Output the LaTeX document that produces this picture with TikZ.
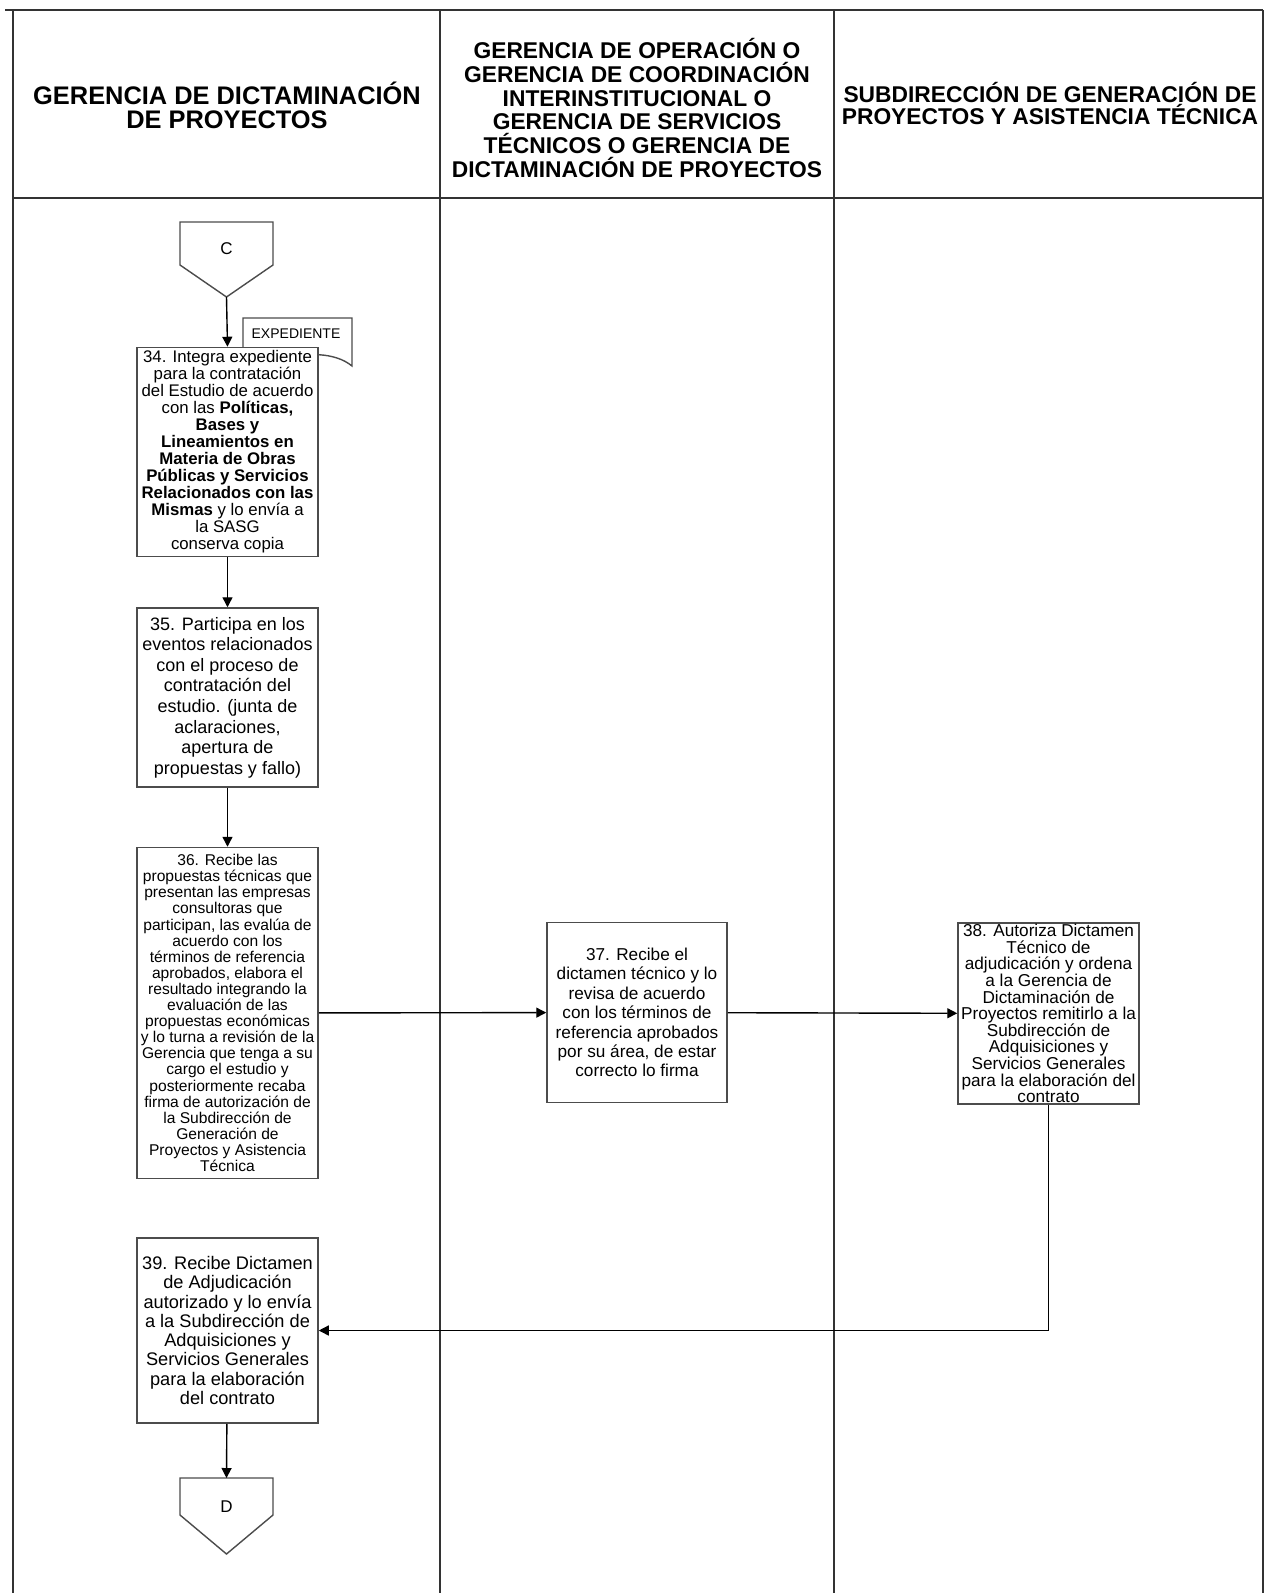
\documentclass[tikz,border=0pt]{standalone}
\usepackage{fontspec}
\setmainfont{Liberation Sans}
\usetikzlibrary{arrows.meta}

\tikzset{
  lane/.style={draw=black!80, line width=1.3pt},
  head/.style={font=\bfseries\fontsize{11.4}{11.9}\selectfont, align=center, inner sep=0pt},
  task/.style={draw=black!70, line width=0.75pt, fill=white, align=center, inner xsep=1pt, inner ysep=2pt, minimum width=90.5pt},
  flow/.style={draw=black, line width=0.7pt, -{Triangle[length=5pt,width=5pt]}},
  link/.style={draw=black!70, line width=0.7pt, fill=white},
}

\begin{document}
\begin{tikzpicture}[x=0.5pt, y=-0.5pt]
\useasboundingbox (0,0) rectangle (1267,1593);

% carriles
\draw[lane] (5,10) -- (1263,10);
\draw[lane] (13,10) -- (13,1593);
\draw[lane] (440,10) -- (440,1593);
\draw[lane] (834,10) -- (834,1593);
\draw[lane] (1263,10) -- (1263,1593);
\draw[lane] (13,198) -- (1263,198);

\node[head, font=\bfseries\fontsize{12.7}{11.9}\selectfont] (hA) at (227,105) {GERENCIA DE DICTAMINACIÓN\\DE PROYECTOS};
\node[head] (hB) at (637,108) {GERENCIA DE OPERACIÓN O\\GERENCIA DE COORDINACIÓN\\INTERINSTITUCIONAL O\\GERENCIA DE SERVICIOS\\TÉCNICOS O GERENCIA DE\\DICTAMINACIÓN DE PROYECTOS};
\node[head, font=\bfseries\fontsize{11.4}{11}\selectfont] (hC) at (1050,104) {SUBDIRECCIÓN DE GENERACIÓN DE\\PROYECTOS Y ASISTENCIA TÉCNICA};

% conector C
\draw[link] (180,222) -- (273,222) -- (273,265) -- (226.5,297) -- (180,265) -- cycle;
\node[font=\fontsize{8.5}{9}\selectfont] (C) at (226.5,249) {C};
\coordinate (Ctip) at (226.5,297);

% documento
\draw[link] (243,318) -- (352,318) -- (352,366) .. controls (335,352) and (305,352) .. (280,360) .. controls (265,364) and (252,364) .. (243,361) -- cycle;
\node[font=\fontsize{7}{7.5}\selectfont] (expd) at (296,334) {EXPEDIENTE};

\node[task, minimum height=104.5pt, inner ysep=0pt, font=\fontsize{8.4}{8.5}\selectfont] (b34) at (227.5,452) {34. Integra expediente\\para la contratación\\del Estudio de acuerdo\\con las \textbf{Políticas,}\\\textbf{Bases y}\\\textbf{Lineamientos en}\\\textbf{Materia de Obras}\\\textbf{Públicas y Servicios}\\\textbf{Relacionados con las}\\\textbf{Mismas} y lo envía a\\la SASG\\conserva copia};
\node[task, minimum height=89.5pt, font=\fontsize{9}{10.3}\selectfont] (b35) at (227.5,697.5) {35. Participa en los\\eventos relacionados\\con el proceso de\\contratación del\\estudio. (junta de\\aclaraciones,\\apertura de\\propuestas y fallo)};
\node[task, minimum height=165.5pt, font=\fontsize{7.8}{8.05}\selectfont] (b36) at (227.5,1013) {36. Recibe las\\propuestas técnicas que\\presentan las empresas\\consultoras que\\participan, las evalúa de\\acuerdo con los\\términos de referencia\\aprobados, elabora el\\resultado integrando la\\evaluación de las\\propuestas económicas\\y lo turna a revisión de la\\Gerencia que tenga a su\\cargo el estudio y\\posteriormente recaba\\firma de autorización de\\la Subdirección de\\Generación de\\Proyectos y Asistencia\\Técnica};
\node[task, minimum width=90pt, minimum height=90pt, font=\fontsize{8.6}{9.7}\selectfont] (b37) at (637,1012.5) {37. Recibe el\\dictamen técnico y lo\\revisa de acuerdo\\con los términos de\\referencia aprobados\\por su área, de estar\\correcto lo firma};
\node[task, minimum height=90.5pt, inner xsep=0pt, inner ysep=-1.5pt, font=\fontsize{8.6}{8.3}\selectfont] (b38) at (1048.5,1013.5) {38. Autoriza Dictamen\\Técnico de\\adjudicación y ordena\\a la Gerencia de\\Dictaminación de\\Proyectos remitirlo a la\\Subdirección de\\Adquisiciones y\\Servicios Generales\\para la elaboración del\\contrato};
\node[task, minimum height=92.5pt, font=\fontsize{9.1}{9.65}\selectfont] (b39) at (227.5,1330.5) {39. Recibe Dictamen\\de Adjudicación\\autorizado y lo envía\\a la Subdirección de\\Adquisiciones y\\Servicios Generales\\para la elaboración\\del contrato};

% conector D
\draw[link] (180,1478) -- (273,1478) -- (273,1515) -- (226.5,1554) -- (180,1515) -- cycle;
\node[font=\fontsize{8.5}{9}\selectfont] (D) at (226.5,1507) {D};
\coordinate (Dtop) at (226.5,1478);

\draw[flow] (Ctip) -- (b34.north);
\draw[flow] (b34) -- (b35);
\draw[flow] (b35) -- (b36);
\draw[flow] (b36) -- (b37);
\draw[flow] (b37) -- (b38);
\draw[flow] (b38) |- (b39);
\draw[flow] (b39) -- (Dtop);
\end{tikzpicture}
\end{document}
